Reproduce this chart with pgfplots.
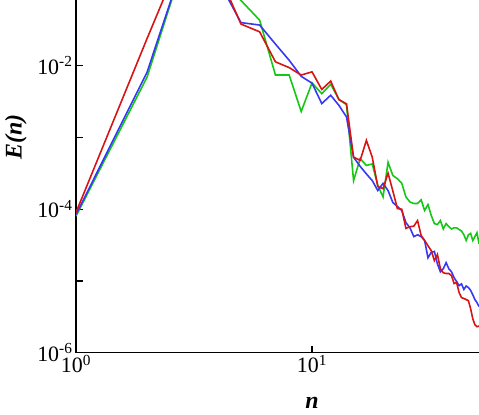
\documentclass[border=0pt]{standalone}
\usepackage{fontspec}
\setmainfont{Liberation Serif}
\usepackage{pgfplots}
\pgfplotsset{compat=1.18}
\usepackage{pgfplotstable}
\definecolor{cRed}{RGB}{215,20,20}
\definecolor{cBlue}{RGB}{55,55,245}
\definecolor{cGreen}{RGB}{20,200,20}

% n, E(n)
\pgfplotstableread{
n E
1 9.0e-5
2 2.38e-2
3 0.58
4 0.20
5 3.8e-2
6 2.96e-2
7 1.13e-2
8 9.4e-3
9 7.4e-3
10 8.2e-3
11 4.66e-3
12 6.1e-3
13 3.35e-3
14 2.94e-3
15 5.3e-4
16 4.8e-4
17 9.1e-4
18 5.3e-4
19 2.07e-4
20 1.93e-4
21 3.18e-4
22 1.8e-4
23 1.02e-4
24 1.0e-4
25 5.4e-5
26 5.7e-5
27 5.8e-5
28 6.95e-5
29 4.3e-5
30 3.66e-5
31 3.1e-5
32 2.65e-5
33 1.92e-5
34 2.33e-5
35 1.48e-5
36 1.3e-5
37 1.27e-5
38 1.27e-5
39 1.19e-5
40 9.2e-6
41 9.5e-6
42 6.9e-6
43 5.85e-6
44 5.7e-6
45 5.5e-6
46 5.3e-6
47 4.1e-6
48 2.97e-6
49 2.45e-6
50 2.3e-6
51 2.35e-6
}\redtab

\pgfplotstableread{
n E
1 8.4e-5
2 8.1e-3
3 0.45
4 0.156
5 3.98e-2
6 3.68e-2
7 2.0e-2
8 1.19e-2
9 7.1e-3
10 5.7e-3
11 2.96e-3
12 3.87e-3
13 2.8e-3
14 1.93e-3
15 5.3e-4
16 3.95e-4
17 3.1e-4
18 2.5e-4
19 1.82e-4
20 2.29e-4
21 1.82e-4
22 1.24e-4
23 1.09e-4
24 9.6e-5
25 6.5e-5
26 5.5e-5
27 4.15e-5
28 4.4e-5
29 4.15e-5
30 3.66e-5
31 2.1e-5
32 2.5e-5
33 2.58e-5
34 1.73e-5
35 1.34e-5
36 1.48e-5
37 1.8e-5
38 1.48e-5
39 1.34e-5
40 1.11e-5
41 9.8e-6
42 8.6e-6
43 9.1e-6
44 7.6e-6
45 8.5e-6
46 8.1e-6
47 7.4e-6
48 6.4e-6
49 5.5e-6
50 5.0e-6
51 4.4e-6
}\bluetab

\pgfplotstableread{
n E
1 8.0e-5
2 6.9e-3
3 0.45
4 0.166
5 8.1e-2
6 4.3e-2
7 7.4e-3
8 7.4e-3
9 2.3e-3
10 5.75e-3
11 4.07e-3
12 5.5e-3
13 3.4e-3
14 2.85e-3
15 2.5e-4
16 5.06e-4
17 4.07e-4
18 4.27e-4
19 2.14e-4
20 1.48e-4
21 4.5e-4
22 2.95e-4
23 2.66e-4
24 2.3e-4
25 1.48e-4
26 1.26e-4
27 1.2e-4
28 1.2e-4
29 1.35e-4
30 9.6e-5
31 1.16e-4
32 8.2e-5
33 6.3e-5
34 6.1e-5
35 6.95e-5
36 5.3e-5
37 6.3e-5
38 5.7e-5
39 5.3e-5
40 5.5e-5
41 5.5e-5
42 5.2e-5
43 4.96e-5
44 4.4e-5
45 3.66e-5
46 4.4e-5
47 4.6e-5
48 3.66e-5
49 4.15e-5
50 4.7e-5
51 3.3e-5
}\greentab

\begin{document}
\begin{tikzpicture}
\begin{axis}[
  scale only axis, width=403bp, height=352.7bp,
  xmode=log, ymode=log,
  xmin=1, xmax=51, ymin=1e-6, ymax=0.0822,
  axis x line*=bottom, axis y line*=left,
  axis line style={line width=1.5pt,-},
  xminorticks=false, yminorticks=false,
  xtick={1,10}, xticklabels={10\textsuperscript{0},10\textsuperscript{1}},
  ytick={1e-6,1e-4,1e-2},
  yticklabels={10\textsuperscript{-6},10\textsuperscript{-4},10\textsuperscript{-2}},
  extra y ticks={1e-5,1e-3}, extra y tick labels={},
  tick align=inside, major tick length=7bp,
  tick style={line width=1.2pt,black},
  tick label style={font=\fontsize{22}{24}\selectfont},
  xticklabel style={yshift=1bp},
  xlabel={\bfseries\itshape n},
  ylabel={\bfseries\itshape E(n)},
  label style={font=\fontsize{24}{27}\selectfont},
  xlabel style={at={(axis description cs:0.5856,-0.1426)},anchor=center},
  ylabel style={at={(axis description cs:-0.149,0.6116)},anchor=center},
  every axis plot/.append style={line width=1.6pt},
]
\addplot[cGreen] table[x=n,y=E] {\greentab};
\addplot[cBlue] table[x=n,y=E] {\bluetab};
\addplot[cRed] table[x=n,y=E] {\redtab};
\end{axis}
\pgfresetboundingbox
\path[use as bounding box] (current axis.south west) ++(-76bp,-62.3bp) rectangle (current axis.north east);
\end{tikzpicture}
\end{document}
